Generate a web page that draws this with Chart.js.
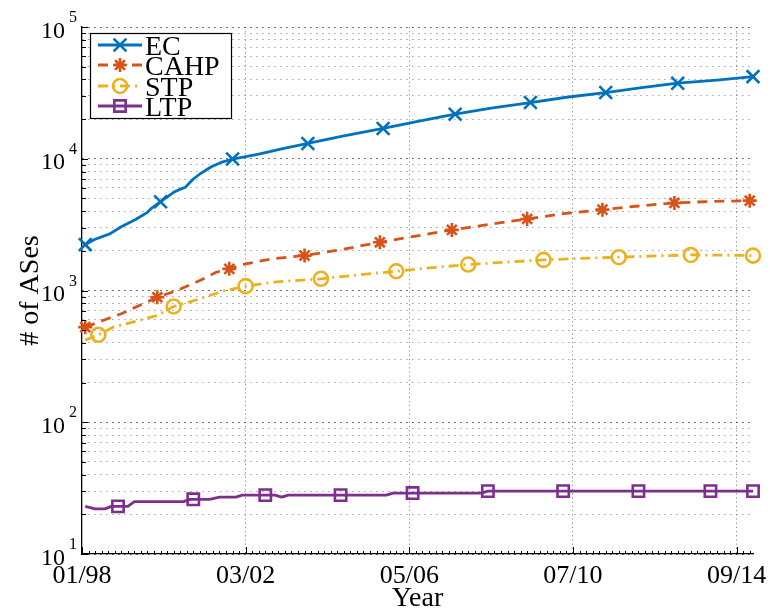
<!DOCTYPE html>
<html>
<head>
<meta charset="utf-8">
<script src="https://cdn.jsdelivr.net/npm/chart.js@4.4.1/dist/chart.umd.min.js"></script>
<style>
  html, body { margin: 0; padding: 0; background: #fff; }
  canvas { display: block; }
</style>
</head>
<body>
<canvas id="chart" width="772" height="616"></canvas>
<script>
// x values are months counted from 01/98 (0 = 01/98)
const xTickMonths = [0, 50, 100, 150, 200];
const xTickLabels = ['01/98', '03/02', '05/06', '07/10', '09/14'];
const yDecadeExponents = [1, 2, 3, 4, 5];

// EC
const ecMonths = [1, 4, 8.5, 12, 16.5, 20, 21, 24, 28, 29.5, 31.5, 34, 36, 39.5, 42.5, 46, 54, 61, 69, 80, 92, 103, 114, 125, 137, 148, 160, 171, 182, 194, 205];
const ecCounts = [2230, 2450, 2690, 3050, 3470, 3920, 4160, 4720, 5560, 5800, 6060, 7020, 7660, 8700, 9380, 9950, 10850, 11900, 13060, 14900, 16970, 19300, 21800, 24200, 26700, 29300, 31800, 34600, 37440, 39500, 42030];
const ecMarkerMonths = [1, 24, 46, 69, 92, 114, 137, 160, 182, 205];

// CAHP
const cahpMonths = [1, 7, 12, 17.5, 23, 29, 36, 41, 45, 50, 58, 68, 80, 91, 102, 113, 125, 136, 147, 159, 170, 181, 192, 204];
const cahpCounts = [527, 600, 666, 770, 889, 1000, 1190, 1376, 1460, 1593, 1738, 1841, 2060, 2323, 2590, 2884, 3190, 3492, 3830, 4108, 4380, 4618, 4740, 4806];
const cahpMarkerMonths = [1, 23, 45, 68, 91, 113, 136, 159, 181, 204];

// STP
const stpMonths = [1, 5, 9.5, 17.5, 23, 28, 36, 43, 50, 58, 73, 84, 96, 107, 118, 129, 141, 152, 164, 175, 186, 196, 205];
const stpCounts = [420, 461, 527, 593, 647, 756, 865, 988, 1079, 1156, 1227, 1310, 1400, 1490, 1574, 1640, 1708, 1750, 1789, 1830, 1862, 1855, 1841];
const stpMarkerMonths = [5, 28, 50, 73, 96, 118, 141, 164, 186, 205];

// LTP
const ltpMonths = [1, 4, 7, 9, 11, 14, 16, 31, 33, 34, 39, 42, 47, 49, 56, 59, 61, 63, 79, 93, 95, 101, 122, 124, 147, 170, 192, 205];
const ltpCounts = [23, 22, 22, 23, 23, 23, 25, 25, 26, 26, 26, 27, 27, 28, 28, 28, 27, 28, 28, 28, 29, 29, 29, 30, 30, 30, 30, 30];
const ltpMarkerMonths = [11, 34, 56, 79, 101, 124, 147, 170, 192, 205];

const X_MAX = 205;
const SERIF = '"Liberation Serif", "Times New Roman", serif';

function toPoints(months, counts) {
  return months.map((m, i) => ({ x: m, y: counts[i] }));
}

function makeSeries(label, months, counts, markerMonths, color, dash, pointStyle, radius) {
  const markers = new Set(markerMonths);
  return {
    label,
    data: toPoints(months, counts),
    borderColor: color,
    backgroundColor: color,
    borderWidth: 2.8,
    borderDash: dash,
    borderJoinStyle: 'round',
    tension: 0,
    fill: false,
    clip: false,
    pointStyle,
    markerRadius: radius,
    pointRadius: ctx => (ctx.raw && markers.has(ctx.raw.x)) ? radius : 0,
    pointHoverRadius: ctx => (ctx.raw && markers.has(ctx.raw.x)) ? radius : 0,
    pointBorderColor: color,
    pointBackgroundColor: 'rgba(0,0,0,0)',
    pointBorderWidth: 2.6
  };
}

const datasets = [
  makeSeries('EC', ecMonths, ecCounts, ecMarkerMonths, '#0072BD', [], 'crossRot', 9),
  makeSeries('CAHP', cahpMonths, cahpCounts, cahpMarkerMonths, '#D95319', [10, 7], 'star', 7),
  makeSeries('STP', stpMonths, stpCounts, stpMarkerMonths, '#EDB120', [10, 5, 2, 5], 'circle', 7),
  makeSeries('LTP', ltpMonths, ltpCounts, ltpMarkerMonths, '#7E2F8E', [], 'rect', 8)
];

const yTickValues = [];
yDecadeExponents.forEach(e => {
  if (e === yDecadeExponents[yDecadeExponents.length - 1]) { yTickValues.push(Math.pow(10, e)); return; }
  for (let k = 1; k <= 9; k++) yTickValues.push(k * Math.pow(10, e));
});
const isDecade = v => Math.abs(Math.log10(v) - Math.round(Math.log10(v))) < 1e-9;

// Axis tick marks, tick labels and titles in the MATLAB style (ticks pointing inward)
const axisDecor = {
  id: 'axisDecor',
  afterDatasetsDraw(chart) {
    const { ctx, chartArea: ca } = chart;
    const xs = chart.scales.x, ys = chart.scales.y;
    ctx.save();
    ctx.strokeStyle = '#000';
    ctx.lineWidth = 1;
    ctx.setLineDash([]);
    ctx.beginPath();
    yTickValues.forEach(v => {
      const y = Math.round(ys.getPixelForValue(v)) + 0.5;
      const len = isDecade(v) ? 6 : 4;
      ctx.moveTo(ca.left, y); ctx.lineTo(ca.left + len, y);
    });
    for (let m = 0; m <= X_MAX; m += 2) {
      const x = Math.round(xs.getPixelForValue(m)) + 0.5;
      ctx.moveTo(x, ca.bottom); ctx.lineTo(x, ca.bottom - 3);
    }
    xTickMonths.forEach(m => {
      const x = Math.round(xs.getPixelForValue(m)) + 0.5;
      ctx.moveTo(x, ca.bottom); ctx.lineTo(x, ca.bottom - 7);
    });
    ctx.stroke();

    ctx.fillStyle = '#000';
    // x tick labels
    ctx.font = '26px ' + SERIF;
    ctx.textAlign = 'center';
    ctx.textBaseline = 'alphabetic';
    xTickMonths.forEach((m, i) => {
      ctx.fillText(xTickLabels[i], xs.getPixelForValue(m), ca.bottom + 29);
    });
    // y tick labels: 10 with a raised exponent
    yDecadeExponents.forEach(e => {
      const y = ys.getPixelForValue(Math.pow(10, e));
      ctx.font = '24px ' + SERIF;
      ctx.textAlign = 'right';
      ctx.fillText('10', ca.left - 17, y + 10.5);
      ctx.font = '16px ' + SERIF;
      ctx.textAlign = 'left';
      ctx.fillText(String(e), ca.left - 13, y - 5);
    });
    // axis titles
    ctx.font = '28px ' + SERIF;
    ctx.textAlign = 'center';
    ctx.fillText('Year', (ca.left + ca.right) / 2, 606);
    ctx.save();
    ctx.translate(38, (ca.top + ca.bottom) / 2);
    ctx.rotate(-Math.PI / 2);
    ctx.fillText('# of ASes', 0, 0);
    ctx.restore();
    ctx.restore();
  }
};

// Boxed legend in the upper-left corner of the plot area
const boxLegend = {
  id: 'boxLegend',
  afterDraw(chart) {
    const { ctx, chartArea: ca } = chart;
    const left = ca.left + 8.5, top = ca.top + 6.5, w = 141, h = 85;
    ctx.save();
    ctx.fillStyle = '#fff';
    ctx.fillRect(left, top, w, h);
    ctx.strokeStyle = '#000';
    ctx.lineWidth = 1.2;
    ctx.setLineDash([]);
    ctx.strokeRect(left, top, w, h);
    const rowY = [45, 65, 86, 106];
    chart.data.datasets.forEach((ds, i) => {
      const y = ca.top + (rowY[i] - 27);
      const x1 = ca.left + 16, x2 = ca.left + 60, xm = (x1 + x2) / 2;
      ctx.strokeStyle = ds.borderColor;
      ctx.lineWidth = ds.borderWidth;
      ctx.setLineDash(ds.borderDash || []);
      ctx.lineDashOffset = 0;
      ctx.beginPath();
      ctx.moveTo(x1, y); ctx.lineTo(x2, y);
      ctx.stroke();
      ctx.setLineDash([]);
      ctx.lineWidth = ds.pointBorderWidth;
      ctx.fillStyle = 'rgba(0,0,0,0)';
      Chart.helpers.drawPoint(ctx, {
        pointStyle: ds.pointStyle, radius: ds.markerRadius, rotation: 0, borderWidth: ds.pointBorderWidth
      }, xm, y);
      ctx.fillStyle = '#000';
      ctx.font = '28px ' + SERIF;
      ctx.textAlign = 'left';
      ctx.textBaseline = 'alphabetic';
      ctx.fillText(ds.label, ca.left + 63, y + 9.5);
    });
    ctx.restore();
  }
};

new Chart(document.getElementById('chart'), {
  type: 'line',
  data: { datasets },
  options: {
    responsive: false,
    devicePixelRatio: 1,
    animation: false,
    events: [],
    layout: { padding: { left: 82, top: 27, right: 19, bottom: 62 } },
    plugins: { legend: { display: false }, tooltip: { enabled: false } },
    scales: {
      x: {
        type: 'linear',
        min: 0,
        max: X_MAX,
        afterBuildTicks: axis => { axis.ticks = xTickMonths.map(v => ({ value: v })); },
        ticks: { display: false },
        grid: {
          drawTicks: false,
          lineWidth: 1,
          color: ctx => (ctx.tick && ctx.tick.value === 0) ? 'rgba(0,0,0,0)' : '#8c8c8c'
        },
        border: { display: true, color: '#000', width: 1.3, dash: [1.2, 3] }
      },
      y: {
        type: 'logarithmic',
        min: 10,
        max: 100000,
        afterBuildTicks: axis => { axis.ticks = yTickValues.map(v => ({ value: v })); },
        ticks: { display: false },
        grid: {
          drawTicks: false,
          lineWidth: 1,
          color: ctx => (ctx.tick && isDecade(ctx.tick.value)) ? '#1a1a1a' : '#8c8c8c'
        },
        border: { display: true, color: '#000', width: 1.3, dash: [1.2, 4.8] }
      }
    }
  },
  plugins: [axisDecor, boxLegend]
});
</script>
</body>
</html>
